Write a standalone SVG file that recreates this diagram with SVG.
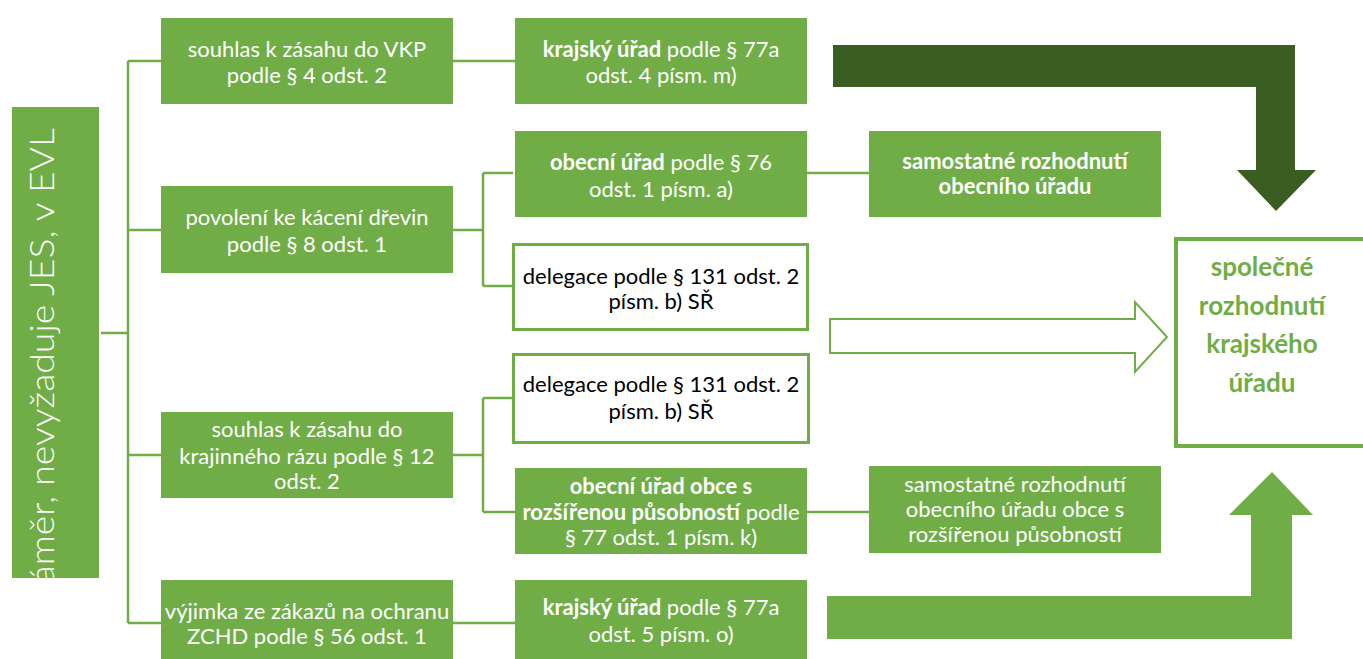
<svg xmlns="http://www.w3.org/2000/svg" width="1363" height="659" viewBox="0 0 1363 659">
<defs>
<style>
.g{fill:#70AD47}
.o{fill:#fff;stroke:#70AD47;stroke-width:3}
.t{font-family:Lato,"Liberation Sans",sans-serif;font-size:22px;text-anchor:middle;fill:#fff}
.k{fill:#000}
.b{font-weight:bold}
.c{fill:none;stroke:#70AD47;stroke-width:2.5}
.r{font-family:Lato,"Liberation Sans",sans-serif;font-size:26px;font-weight:bold;text-anchor:middle;fill:#70AD47}
</style>
<clipPath id="barclip"><rect x="12" y="107" width="87" height="471"/></clipPath>
</defs>
<rect width="1363" height="659" fill="#fff"/>

<g id="connectors">
<path class="c" d="M101 333H128M128 61V623M128 61H161M128 230H161M128 455H161M128 623H161"/>
<path class="c" d="M453 61H515"/>
<path class="c" d="M453 230H483M483 173V286M483 173H513M483 286H513"/>
<path class="c" d="M807 173H869"/>
<path class="c" d="M453 455H483M483 398V512M483 398H513M483 512H515"/>
<path class="c" d="M807 512H869"/>
<path class="c" d="M453 623H515"/>
<path id="arrow-dark" fill="#3a5d22" d="M833 45H1295V170H1316L1276 211L1237 170H1256V87H833Z"/>
<path id="arrow-hollow" fill="#fff" stroke="#70AD47" stroke-width="2" d="M830 319H1135V302L1167 337L1135 372V353H830Z"/>
<path id="arrow-light" fill="#70AD47" d="M827 596H1251V515H1229L1272 472L1313 515H1292V639H827Z"/>
</g>

<g id="n-root">
<rect class="g" x="12" y="107" width="87" height="471"/>
<g clip-path="url(#barclip)">
<text transform="translate(54,128) rotate(-90)" text-anchor="end" font-family="Lato,'Liberation Sans',sans-serif" font-weight="300" font-size="34" fill="#fff" textLength="472" lengthAdjust="spacingAndGlyphs">záměr, nevyžaduje JES, v EVL</text>
</g>
</g>

<g id="n-vkp">
<rect class="g" x="161" y="18" width="292" height="86"/>
<text class="t" x="307" y="57">souhlas k zásahu do VKP</text>
<text class="t" x="307" y="83">podle § 4 odst. 2</text>
</g>
<g id="n-kaceni">
<rect class="g" x="161" y="186" width="292" height="87"/>
<text class="t" x="307" y="225">povolení ke kácení dřevin</text>
<text class="t" x="307" y="252">podle § 8 odst. 1</text>
</g>
<g id="n-raz">
<rect class="g" x="161" y="412" width="292" height="86"/>
<text class="t" x="307" y="437">souhlas k zásahu do</text>
<text class="t" x="307" y="464">krajinného rázu podle § 12</text>
<text class="t" x="307" y="489">odst. 2</text>
</g>
<g id="n-zchd">
<rect class="g" x="161" y="580" width="292" height="86"/>
<text class="t" x="307" y="619">výjimka ze zákazů na ochranu</text>
<text class="t" x="307" y="644">ZCHD podle § 56 odst. 1</text>
</g>

<g id="n-ku1">
<rect class="g" x="515" y="18" width="292" height="86"/>
<text class="t" x="661" y="57"><tspan class="b">krajský úřad</tspan> podle § 77a</text>
<text class="t" x="661" y="83">odst. 4 písm. m)</text>
</g>
<g id="n-ou">
<rect class="g" x="515" y="131" width="292" height="86"/>
<text class="t" x="661" y="170"><tspan class="b">obecní úřad</tspan> podle § 76</text>
<text class="t" x="661" y="197">odst. 1 písm. a)</text>
</g>
<g id="n-del1">
<rect class="o" x="513.5" y="244.5" width="294" height="85"/>
<text class="t k" x="661" y="284">delegace podle § 131 odst. 2</text>
<text class="t k" x="661" y="309">písm. b) SŘ</text>
</g>
<g id="n-del2">
<rect class="o" x="513.5" y="354.5" width="295" height="88"/>
<text class="t k" x="661" y="392">delegace podle § 131 odst. 2</text>
<text class="t k" x="661" y="419">písm. b) SŘ</text>
</g>
<g id="n-orp">
<rect class="g" x="515" y="468" width="292" height="86"/>
<text class="t" x="661" y="494"><tspan class="b">obecní úřad obce s</tspan></text>
<text class="t" x="661" y="520"><tspan class="b">rozšířenou působností</tspan> podle</text>
<text class="t" x="661" y="545">§ 77 odst. 1 písm. k)</text>
</g>
<g id="n-ku2">
<rect class="g" x="515" y="580" width="292" height="86"/>
<text class="t" x="661" y="615"><tspan class="b">krajský úřad</tspan> podle § 77a</text>
<text class="t" x="661" y="642">odst. 5 písm. o)</text>
</g>

<g id="n-sam1">
<rect class="g" x="869" y="131" width="292" height="86"/>
<text class="t b" x="1015" y="169">samostatné rozhodnutí</text>
<text class="t b" x="1015" y="194">obecního úřadu</text>
</g>
<g id="n-sam2">
<rect class="g" x="869" y="466" width="292" height="87"/>
<text class="t" x="1015" y="492">samostatné rozhodnutí</text>
<text class="t" x="1015" y="517">obecního úřadu obce s</text>
<text class="t" x="1015" y="542">rozšířenou působností</text>
</g>

<g id="n-spolecne">
<rect fill="#fff" stroke="#70AD47" stroke-width="4" x="1176" y="239" width="200" height="207"/>
<text class="r" x="1262" y="276">společné</text>
<text class="r" x="1262" y="315">rozhodnutí</text>
<text class="r" x="1262" y="353">krajského</text>
<text class="r" x="1262" y="392">úřadu</text>
</g>
</svg>
